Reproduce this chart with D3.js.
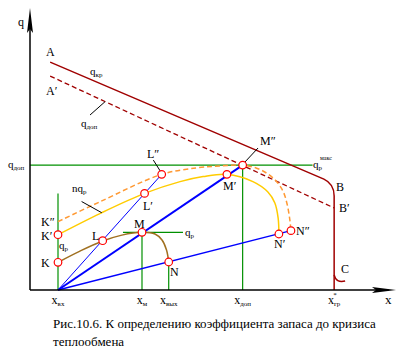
<!DOCTYPE html>
<html><head><meta charset="utf-8">
<script src="https://cdn.jsdelivr.net/npm/d3@7"></script>
<style>body{margin:0;background:#fff} svg text{font-family:"Liberation Serif","DejaVu Serif","Times New Roman",serif;fill:#000}</style>
</head><body><svg id="c" width="406" height="360" font-family="Liberation Serif, DejaVu Serif, serif"></svg>
<script>
// ---- data (abstract units: x 0..100, q 0..100) ----
const tickNames = ["вх", "м", "вых", "доп", "гр"];
const tickValues = [7.65, 30.6, 37.9, 58.1, 83.1];
const qDop = 44.6;
const qPmax = 20.6;
const origin = [7.65, 0];
const qKrLine = [[5.5, 81.4], [80.3, 39.6], [83.1, 37.9], [83.1, 33.6], [83.1, 0]];
const qDopLine = [[5.5, 76.4], [83.1, 29.3]];
const cCurve = [[83.1, 5.4], [83.6, 2.4], [86.1, 3.2]];
const rayEnds = [[35.98, 41.3], [58.1, 44.6], [71.3, 21.2]];
const qpCurve = [[7.65, 9.89], [13.66, 13.9], [19.86, 17.5], [25.1, 19.6], [30.6, 20.6], [34.15, 20.0], [36.07, 17.86], [37.3, 14.3], [37.9, 10.0]];
const nqpCurve = [[7.65, 19.75], [19.1, 27.3], [31.3, 34.5], [41.0, 38.7], [47.3, 40.5], [53.8, 41.3], [60.9, 38.7], [65.0, 35.0], [66.9, 31.1], [67.8, 25.7], [68.0, 20.0]];
const nqpMaxCurve = [[7.65, 24.4], [19.1, 31.5], [35.98, 41.3], [45.5, 43.6], [51.9, 44.3], [58.1, 44.6], [61.9, 43.5], [64.7, 41.7], [67.4, 38.7], [69.2, 35.1], [70.3, 30.4], [71.0, 25.0], [71.3, 21.2]];
const pointNames = ["K", "K′", "L", "L′", "L″", "M", "M′", "M″", "N", "N′", "N″"];
const pointValues = [[7.65, 9.89], [7.65, 19.75], [19.86, 17.6], [31.3, 34.5], [35.98, 41.3], [30.6, 20.6], [53.8, 41.3], [58.1, 44.6], [37.9, 10.0], [68.0, 20.0], [71.3, 21.2]];
const leaders = [[[16.4, 62.5], [20.5, 67.25]], [[14.1, 31.6], [19.6, 27.6]], [[33.7, 46.4], [35.7, 42.25]], [[58.5, 45.4], [62.3, 50.7]]];

// ---- drawing ----
const svg = d3.select("#c");
const x = d3.scaleLinear().domain([0, 100]).range([30, 396]);
const y = d3.scaleLinear().domain([0, 100]).range([290, 10]);
const line = d3.line().x(d => x(d[0])).y(d => y(d[1]));
const smooth = d3.line().x(d => x(d[0])).y(d => y(d[1])).curve(d3.curveCatmullRom.alpha(0.5));

const DRED = "#a00000", GREEN = "#009000", BLUE = "#0000ff", BROWN = "#a07020", YEL = "#ffcc00", ORG = "#ff9933";

// green guide lines
const greens = [
  [[0, qDop], [77.2, qDop]],
  [[tickValues[3], qDop], [tickValues[3], 0]],
  [[tickValues[0], 34.5], [tickValues[0], 0]],
  [[tickValues[1], qPmax], [tickValues[1], 0]],
  [[tickValues[2], 10.0], [tickValues[2], 0]],
  [[25.4, qPmax], [41.8, qPmax]]
];
greens.forEach(g => svg.append("path").attr("d", line(g)).attr("fill", "none").attr("stroke", GREEN).attr("stroke-width", 1.2));

// q_kr line with rounded corner
const p = d3.path();
p.moveTo(x(qKrLine[0][0]), y(qKrLine[0][1]));
p.lineTo(x(qKrLine[1][0]), y(qKrLine[1][1]));
p.quadraticCurveTo(x(qKrLine[2][0]), y(qKrLine[2][1]), x(qKrLine[3][0]), y(qKrLine[3][1]));
p.lineTo(x(qKrLine[4][0]), y(qKrLine[4][1]));
svg.append("path").attr("d", p.toString()).attr("fill", "none").attr("stroke", DRED).attr("stroke-width", 1.5);
svg.append("path").attr("d", line(qDopLine)).attr("fill", "none").attr("stroke", DRED).attr("stroke-width", 1.3).attr("stroke-dasharray", "5,3");
const pc = d3.path();
pc.moveTo(x(cCurve[0][0]), y(cCurve[0][1]));
pc.quadraticCurveTo(x(cCurve[1][0]), y(cCurve[1][1]), x(cCurve[2][0]), y(cCurve[2][1]));
svg.append("path").attr("d", pc.toString()).attr("fill", "none").attr("stroke", DRED).attr("stroke-width", 1.5);

// curves
svg.append("path").attr("d", smooth(qpCurve)).attr("fill", "none").attr("stroke", BROWN).attr("stroke-width", 1.5);
svg.append("path").attr("d", smooth(nqpCurve)).attr("fill", "none").attr("stroke", YEL).attr("stroke-width", 1.5);
svg.append("path").attr("d", smooth(nqpMaxCurve)).attr("fill", "none").attr("stroke", ORG).attr("stroke-width", 1.5).attr("stroke-dasharray", "5,3");

// rays
const rayW = [1, 2, 1.5];
rayEnds.forEach((e, i) => svg.append("path").attr("d", line([origin, e])).attr("fill", "none").attr("stroke", BLUE).attr("stroke-width", rayW[i]));

// leaders
leaders.forEach(l => svg.append("path").attr("d", line(l)).attr("stroke", "#000").attr("stroke-width", 1));

// axes
svg.append("path").attr("d", line([[0, 0], [0, 97]])).attr("stroke", "#000").attr("stroke-width", 1.5);
svg.append("path").attr("d", line([[0, 0], [98, 0]])).attr("stroke", "#000").attr("stroke-width", 1.5);
svg.append("path").attr("d", `M${x(0)},${y(100) - 2} L${x(0) - 3},${y(100) + 23} L${x(0)},${y(100) + 19} L${x(0) + 3},${y(100) + 23} Z`).attr("fill", "#000");
svg.append("path").attr("d", `M${x(100)},${y(0)} L${x(100) - 24},${y(0) - 3} L${x(100) - 20},${y(0)} L${x(100) - 24},${y(0) + 3} Z`).attr("fill", "#000");

// points
svg.selectAll("circle.pt").data(pointValues).join("circle").attr("class", "pt")
  .attr("cx", d => x(d[0])).attr("cy", d => y(d[1])).attr("r", 3.8)
  .attr("fill", "#fff").attr("stroke", "#ff0000").attr("stroke-width", 1.2);

// labels
function lab(tx, ty, main, sub, opts = {}) {
  const t = svg.append("text").attr("x", tx).attr("y", ty).attr("font-size", opts.fs || 12);
  if (opts.anchor) t.attr("text-anchor", opts.anchor);
  t.append("tspan").text(main);
  if (sub) t.append("tspan").attr("font-size", opts.sfs || 7).attr("dy", opts.sdy == null ? 1.5 : opts.sdy).text(sub);
  return t;
}
lab(18, 26, "q", null, {fs: 12});
lab(385, 304, "x", null, {fs: 13});
lab(46, 56, "A");
lab(46, 95, "A′");
lab(90, 75, "q", "кр", {fs: 11});
lab(81, 127, "q", "доп", {fs: 11});
lab(8, 168, "q", "доп", {fs: 11});
lab(313, 168, "q", "р", {fs: 11});
svg.append("text").attr("x", 320).attr("y", 160).attr("font-size", 6).text("макс");
lab(147, 158, "L″");
lab(92, 240, "L");
lab(143, 210, "L′");
lab(41, 226, "K″");
lab(41, 240, "K′");
lab(41, 267, "K");
lab(59, 249, "q", "р", {fs: 11});
lab(72, 192, "nq", "р", {fs: 11});
lab(134, 228, "M");
lab(185, 236, "q", "р", {fs: 11});
lab(170, 276, "N");
lab(223, 190, "M′");
lab(260, 145, "M″");
lab(274, 248, "N′");
lab(296, 235, "N″");
lab(336, 191, "B");
lab(339, 212, "B′");
lab(341, 273, "C");
tickNames.forEach((n, i) => {
  const t = svg.append("text").attr("x", x(tickValues[i])).attr("y", 304).attr("font-size", 12).attr("text-anchor", "middle");
  t.append("tspan").text("x");
  if (n === "гр") {
    t.append("tspan").attr("font-size", 7).attr("dy", 1.5).text("гр");
    svg.append("text").attr("x", x(tickValues[i]) - 1).attr("y", 297).attr("font-size", 7).text("*");
  } else {
    t.append("tspan").attr("font-size", 7).attr("dy", 1.5).text(n);
  }
});
svg.append("text").attr("x", 53).attr("y", 328).attr("font-size", 13).text("Рис.10.6. К определению коэффициента запаса до кризиса");
svg.append("text").attr("x", 53).attr("y", 346).attr("font-size", 13).text("теплообмена");
</script></body></html>
